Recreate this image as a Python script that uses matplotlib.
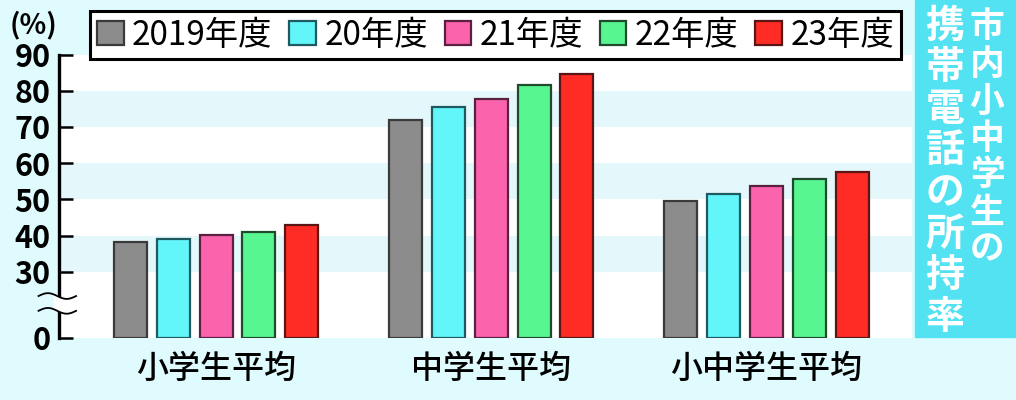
import numpy as np
import matplotlib
matplotlib.use("Agg")
import matplotlib.pyplot as plt
from matplotlib.patches import Rectangle

plt.rcParams['font.family'] = ['Noto Sans CJK JP', 'DejaVu Sans']

categories = ["小学生平均", "中学生平均", "小中学生平均"]
series = ["2019年度", "20年度", "21年度", "22年度", "23年度"]
values = {
    "2019年度": [38.2, 71.8, 49.6],
    "20年度":   [39.1, 75.5, 51.6],
    "21年度":   [40.2, 77.7, 53.6],
    "22年度":   [41.0, 81.6, 55.6],
    "23年度":   [43.0, 84.6, 57.6],
}
colors = ["#8c8c8c", "#62f6fb", "#fb63ad", "#58f690", "#ff2b25"]
edge_colors = ["#3a3a3a", "#1f5a60", "#5a2040", "#1f4a2c", "#5a1515"]
yticks = [0, 30, 40, 50, 60, 70, 80, 90]
bands = [(30, 40), (50, 60), (70, 80)]
title_right = "市内小中学生の"
title_left = "携帯電話の所持率"

FIG_BG = "#e0fbfd"
BAND = "#e4f8fb"
PANEL = "#52e2f1"

# broken axis: 0-30 compressed
C = 18.3
def fwd(v):
    v = np.asarray(v, dtype=float)
    return np.where(v < 30, v * C / 30.0, v - 30.0 + C)
def inv(u):
    u = np.asarray(u, dtype=float)
    return np.where(u < C, u * 30.0 / C, u + 30.0 - C)

W, H = 1016, 400
fig = plt.figure(figsize=(W / 100, H / 100), dpi=100, facecolor=FIG_BG)
ax = fig.add_axes([59 / W, 62 / H, 853 / W, 283.5 / H])
ax.set_facecolor("white")
ax.set_yscale("function", functions=(fwd, inv))
ax.set_ylim(0, 90)

x = np.arange(len(categories))
pitch = 0.1556
width = 0.12
handles = []
for i, s in enumerate(series):
    b = ax.bar(x + (i - 2) * pitch, values[s], width=width, color=colors[i],
               edgecolor=edge_colors[i], linewidth=1.6, zorder=3, label=s)
    handles.append(b)

for lo, hi in bands:
    ax.axhspan(lo, hi, color=BAND, zorder=0, linewidth=0)

ax.set_xlim(-0.571, 2.529)
for sp in ["top", "right", "bottom"]:
    ax.spines[sp].set_visible(False)
ax.spines["left"].set_linewidth(2.4)
ax.spines["left"].set_zorder(5)

ax.set_yticks(yticks)
ax.set_yticklabels([str(t) for t in yticks], fontsize=22, fontweight="bold")
ax.tick_params(axis="y", direction="in", length=10, width=1.8, pad=6)
ax.set_xticks(x)
ax.set_xticklabels(categories, fontsize=23, fontweight="medium")
ax.tick_params(axis="x", length=0, pad=11)

# axis break marks
tr = ax.get_yaxis_transform()
xs = np.linspace(-0.024, 0.02, 60)
ph = 2 * np.pi * (xs - xs[0]) / (xs[-1] - xs[0])
ya = 19.0 + 1.3 * np.sin(ph)
yb = 12.3 + 1.3 * np.sin(ph)
m = (xs > -0.007) & (xs < 0.007)
ax.fill_between(xs[m], yb[m], ya[m], color="white", transform=tr, zorder=6,
                clip_on=False, linewidth=0)
ax.plot(xs, ya, color="black", lw=1.3, transform=tr, clip_on=False, zorder=7)
ax.plot(xs, yb, color="black", lw=1.3, transform=tr, clip_on=False, zorder=7)

fig.text(10 / W, 1 - 25 / H, "(%)", fontsize=20, fontweight="bold",
         ha="left", va="center")

leg = ax.legend(handles=handles, labels=series, loc="center", ncol=5,
                bbox_to_anchor=(495.5 / W, 1 - 35 / H),
                bbox_transform=fig.transFigure,
                fontsize=24, handlelength=0.8, handleheight=0.75,
                handletextpad=0.25, columnspacing=0.5, borderpad=0.2,
                fancybox=False, framealpha=1, edgecolor="black")
leg.get_frame().set_linewidth(2.2)
leg.set_zorder(10)

# title panel
fig.add_artist(Rectangle((915 / W, 63 / H), 101 / W, 337 / H,
                         transform=fig.transFigure, color=PANEL, zorder=1))
for i, ch in enumerate(title_right):
    fig.text(987 / W, 1 - (27 + 37 * i) / H, ch, color="white", fontsize=25,
             fontweight="bold", ha="center", va="center")
for i, ch in enumerate(title_left):
    fig.text(945 / W, 1 - (26 + 41.6 * i) / H, ch, color="white", fontsize=28,
             fontweight="bold", ha="center", va="center")

fig.savefig("out.png", dpi=100, facecolor=FIG_BG)
